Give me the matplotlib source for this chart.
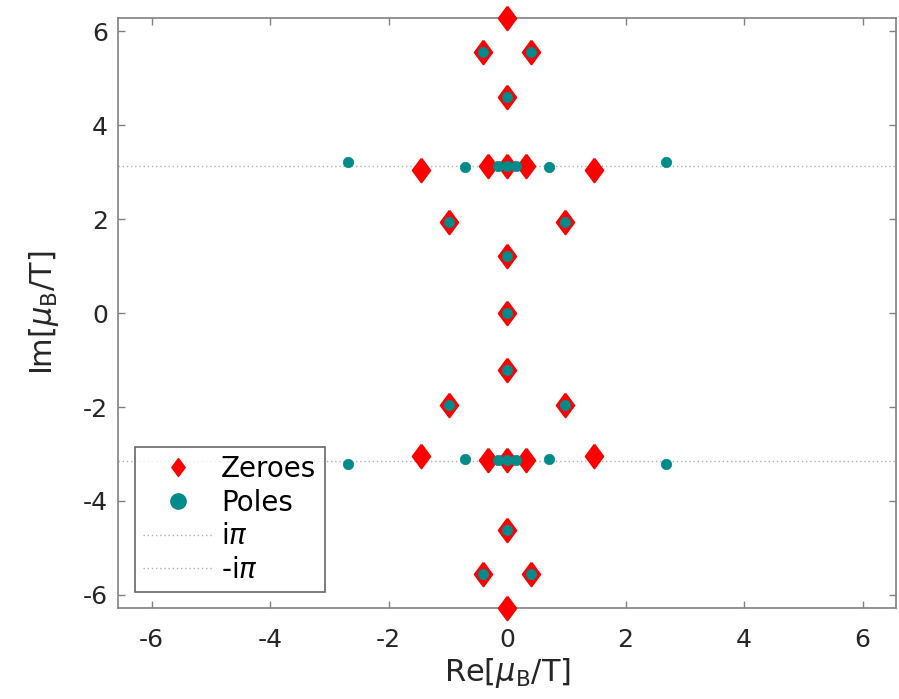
import numpy as np
import matplotlib
matplotlib.use("Agg")
import matplotlib.pyplot as plt
from matplotlib.lines import Line2D

# Zeroes (red diamonds)
zeros_re = [0.0, -0.41, 0.41, 0.0, -1.46, 1.46, -0.32, 0.0, 0.32, -0.98, 0.98, 0.0, 0.0,
            0.0, -0.98, 0.98, -1.46, 1.46, -0.32, 0.0, 0.32, 0.0, -0.41, 0.41, 0.0]
zeros_im = [6.283, 5.56, 5.56, 4.61, 3.05, 3.05, 3.13, 3.13, 3.13, 1.95, 1.95, 1.22, 0.0,
            -1.22, -1.95, -1.95, -3.05, -3.05, -3.13, -3.13, -3.13, -4.61, -5.56, -5.56, -6.283]

# Poles (teal circles)
poles_re = [-0.41, 0.41, 0.0, -2.68, 2.68, -0.71, 0.71, -0.15, 0.0, 0.15, -0.98, 0.98, 0.0, 0.0,
            0.0, -0.98, 0.98, -2.68, 2.68, -0.71, 0.71, -0.15, 0.0, 0.15, 0.0, -0.41, 0.41]
poles_im = [5.56, 5.56, 4.61, 3.21, 3.21, 3.11, 3.11, 3.13, 3.13, 3.13, 1.95, 1.95, 1.22, 0.0,
            -1.22, -1.95, -1.95, -3.21, -3.21, -3.11, -3.11, -3.13, -3.13, -3.13, -4.61, -5.56, -5.56]

x_ticks = [-6, -4, -2, 0, 2, 4, 6]
y_ticks = [-6, -4, -2, 0, 2, 4, 6]
legend_labels = ["Zeroes", "Poles", r"i$\pi$", r"-i$\pi$"]

plt.rcParams['font.family'] = ['DejaVu Sans']
fig = plt.figure(figsize=(8.99, 6.99), dpi=100)
ax = fig.add_axes([0.131, 0.130, 0.866, 0.844])

red = '#ff0000'
teal = '#008b8b'
gray_txt = '#262626'
diamond = [(0, 1), (0.74, 0), (0, -1), (-0.74, 0), (0, 1)]

ax.axhline(np.pi, color='#b0b0b0', lw=1.0, ls=(0, (1, 2)), zorder=1)
ax.axhline(-np.pi, color='#b0b0b0', lw=1.0, ls=(0, (1, 2)), zorder=1)
ax.plot(zeros_re, zeros_im, ls='none', marker=diamond, ms=17, mfc=red, mec=red, mew=1.5,
        zorder=3, clip_on=False)
ax.plot(poles_re, poles_im, ls='none', marker='o', ms=7.5, mfc=teal, mec=teal, mew=0.5,
        zorder=4, clip_on=False)

ax.set_xlim(-6.57, 6.57)
ax.set_ylim(-2 * np.pi, 2 * np.pi)
ax.set_xticks(x_ticks)
ax.set_yticks(y_ticks)
ax.set_xticklabels([str(t) for t in x_ticks])
ax.set_yticklabels([str(t) for t in y_ticks])
ax.tick_params(direction='in', length=5, width=1, colors='#808080', labelcolor=gray_txt,
               labelsize=18, top=True, right=True)
ax.tick_params(axis='x', pad=14)
ax.tick_params(axis='y', pad=7)
for s in ax.spines.values():
    s.set_color('#808080')
    s.set_linewidth(1.2)

ax.set_xlabel(r'Re[$\mu_\mathrm{B}$/T]', fontsize=22, color=gray_txt, labelpad=3)
ax.set_ylabel(r'Im[$\mu_\mathrm{B}$/T]', fontsize=22, color=gray_txt, labelpad=16)

handles = [
    Line2D([], [], ls='none', marker=diamond, ms=13, mfc=red, mec=red),
    Line2D([], [], ls='none', marker='o', ms=11, mfc=teal, mec=teal),
    Line2D([], [], color='#b0b0b0', lw=1.0, ls=(0, (1, 2))),
    Line2D([], [], color='#b0b0b0', lw=1.0, ls=(0, (1, 2))),
]
leg = ax.legend(handles, legend_labels, loc='lower left', bbox_to_anchor=(0.022, 0.027),
                fontsize=20, frameon=True, fancybox=False, edgecolor='#404040',
                handlelength=2.5, handletextpad=0.3, borderpad=0.3, labelspacing=0.2,
                borderaxespad=0.0)
leg.get_frame().set_linewidth(1.2)

fig.savefig('out.png', dpi=100, facecolor='white')
